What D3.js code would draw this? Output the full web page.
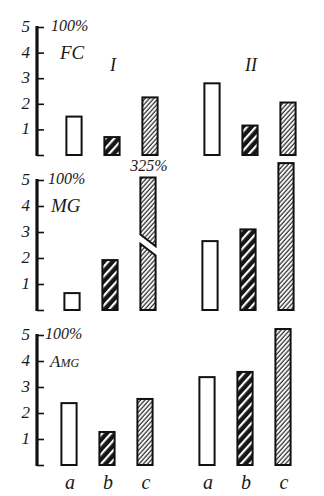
<!DOCTYPE html>
<html><head><meta charset="utf-8">
<script src="https://cdn.jsdelivr.net/npm/d3@7"></script>
<style>
html,body{margin:0;padding:0;background:#fff;}
text{font-family:"Liberation Serif","DejaVu Serif",serif;font-style:italic;fill:#1a1a1a;}
</style></head>
<body>
<svg id="chart" width="324" height="496"></svg>
<script>
// ---- data ----
const groups = ["I", "II"];
const categories = ["a", "b", "c"];
const panels = ["FC", "MG", "Amg"];
const yTicks = [1, 2, 3, 4, 5];
const topLabel = "100%";
// values per panel: [I-a, I-b, I-c, II-a, II-b, II-c]
const fcValues  = [1.5, 0.7, 2.25, 2.8, 1.15, 2.05];
const mgValues  = [0.65, 1.92, 5.1, 2.65, 3.1, 5.65];
const amgValues = [2.38, 1.27, 2.54, 3.38, 3.58, 5.23];
const panelValues = [fcValues, mgValues, amgValues];
// broken bar (MG, group I, c): label and break
const brokenLabel = "325%";
const brokenUpper = [2.9, 2.45];  // bottom edge of upper piece (left, right)
const brokenLower = [2.55, 2.1];  // top edge of lower piece (left, right)

// ---- layout ----
const svg = d3.select("#chart");
const axisX = 37;
const panelLayout = [
  {base: 155, top: 27, dx: 2},
  {base: 310, top: 180, dx: 0},
  {base: 465, top: 335, dx: -3}
];
const xGroup = d3.scaleBand().domain(groups).range([41, 317]).padding(0);
const xCat = d3.scaleBand().domain(categories).range([12, 126]).paddingInner(0.6).paddingOuter(0.3);

// patterns
const defs = svg.append("defs");
const pd = defs.append("pattern").attr("id", "dark").attr("patternUnits", "userSpaceOnUse")
  .attr("width", 6.5).attr("height", 6.5).attr("patternTransform", "rotate(42)");
pd.append("rect").attr("width", 6.5).attr("height", 6.5).attr("fill", "#161616");
pd.append("line").attr("x1", 2).attr("x2", 2).attr("y1", 0).attr("y2", 6.5)
  .attr("stroke", "#fff").attr("stroke-width", 2.2);
const pl = defs.append("pattern").attr("id", "light").attr("patternUnits", "userSpaceOnUse")
  .attr("width", 3.2).attr("height", 3.2).attr("patternTransform", "rotate(42)");
pl.append("rect").attr("width", 3.2).attr("height", 3.2).attr("fill", "#fff");
pl.append("line").attr("x1", 1).attr("x2", 1).attr("y1", 0).attr("y2", 3.2)
  .attr("stroke", "#333").attr("stroke-width", 1.3);
const fills = {a: "#fff", b: "url(#dark)", c: "url(#light)"};

panels.forEach((name, pi) => {
  const L = panelLayout[pi];
  const y = d3.scaleLinear().domain([0, 5]).range([L.base, L.top]);
  const g = svg.append("g");

  // axis
  const ax = g.append("g").attr("transform", `translate(${axisX},0)`);
  ax.call(d3.axisRight(y).tickValues([0].concat(yTicks)).tickSize(7).tickFormat(""));
  ax.select(".domain").remove();
  ax.selectAll(".tick line").attr("stroke", "#111").attr("stroke-width", 1.6);
  ax.append("line").attr("x1", 0).attr("x2", 0).attr("y1", y(5) - 1).attr("y2", y(0) + 1)
    .attr("stroke", "#111").attr("stroke-width", 3.2);
  yTicks.forEach(t => {
    g.append("text").attr("x", 30).attr("y", y(t) + 5).attr("text-anchor", "end")
      .attr("font-size", 17).text(t);
  });
  g.append("text").attr("x", pi === 0 ? 51 : pi === 1 ? 48 : 45).attr("y", y(5) + 4)
    .attr("font-size", 16).text(topLabel);
  const nameText = g.append("text").attr("x", pi === 0 ? 60 : pi === 1 ? 51 : 50)
    .attr("y", y(4) + 6).attr("font-size", pi === 2 ? 17 : 19).text(name);
  if (pi === 2) nameText.style("font-variant", "small-caps");

  // bars
  const vals = panelValues[pi];
  groups.forEach((gr, gi) => {
    categories.forEach((c, ci) => {
      const v = vals[gi * 3 + ci];
      const x0 = xGroup(gr) + xCat(c) + L.dx;
      const x1 = x0 + xCat.bandwidth();
      if (pi === 1 && gi === 0 && c === "c") {
        const up = [[x0, y(v)], [x1, y(v)], [x1, y(brokenUpper[1])], [x0, y(brokenUpper[0])]];
        const lo = [[x0, y(brokenLower[0])], [x1, y(brokenLower[1])], [x1, y(0)], [x0, y(0)]];
        [up, lo].forEach(pts => {
          g.append("path").attr("d", "M" + pts.join("L") + "Z")
            .attr("fill", fills[c]).attr("stroke", "#111").attr("stroke-width", 2);
        });
        g.append("text").attr("x", (x0 + x1) / 2 + 1).attr("y", y(v) - 6)
          .attr("text-anchor", "middle").attr("font-size", 16).text(brokenLabel);
      } else {
        g.append("rect").attr("x", x0).attr("y", y(v)).attr("width", x1 - x0)
          .attr("height", y(0) - y(v)).attr("fill", fills[c])
          .attr("stroke", "#111").attr("stroke-width", 2);
      }
      if (pi === 2) {
        g.append("text").attr("x", (x0 + x1) / 2 + 1).attr("y", 489)
          .attr("text-anchor", "middle").attr("font-size", 20).text(c);
      }
    });
    if (pi === 0) {
      g.append("text").attr("x", xGroup(gr) + xGroup.bandwidth() / 2 + 3).attr("y", 71)
        .attr("text-anchor", "middle").attr("font-size", 18).text(gr);
    }
  });
});
</script>
</body></html>
